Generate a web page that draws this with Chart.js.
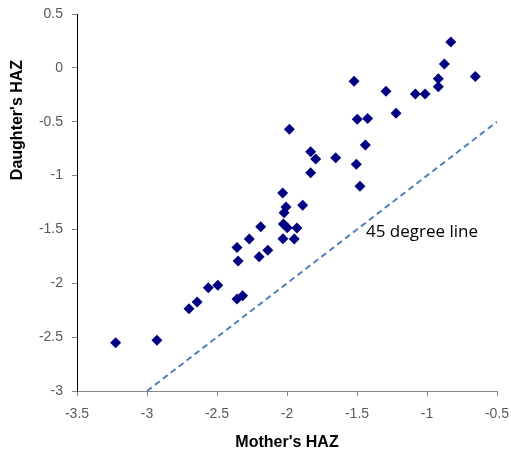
<!doctype html>
<html lang="en">
<head>
  <meta charset="utf-8">
  <title>Mother's vs Daughter's HAZ</title>
  <script src="https://cdn.jsdelivr.net/npm/chart.js"></script>
  <style>
    html, body { margin: 0; padding: 0; background: #fff; }
    #wrap { width: 511px; height: 455px; position: relative; }
  </style>
</head>
<body>
  <div id="wrap"><canvas id="chart"></canvas></div>

  <script>
    // values
    const motherHAZ = [
      -3.224, -2.929, -2.700, -2.642, -2.562, -2.494, -2.357, -2.317,
      -2.357, -2.349, -2.269, -2.199, -2.188, -2.137, -2.031, -2.007,
      -2.021, -2.026, -1.998, -2.029, -1.948, -1.929, -1.888, -1.983,
      -1.831, -1.795, -1.831, -1.652, -1.505, -1.479, -1.440, -1.498,
      -1.424, -1.521, -1.293, -1.221, -1.083, -1.014, -0.919, -0.919,
      -0.876, -0.830, -0.655
    ];
    const daughterHAZ = [
      -2.552, -2.530, -2.236, -2.174, -2.042, -2.018, -2.146, -2.116,
      -1.668, -1.793, -1.589, -1.753, -1.475, -1.694, -1.162, -1.292,
      -1.345, -1.450, -1.484, -1.587, -1.589, -1.487, -1.276, -0.571,
      -0.779, -0.846, -0.973, -0.834, -0.896, -1.100, -0.716, -0.478,
      -0.469, -0.125, -0.218, -0.422, -0.243, -0.243, -0.100, -0.175,
      0.036, 0.240, -0.080
    ];
    const lineX = [-3, -0.5];
    const lineY = [-3, -0.5];
    const lineLabel = '45 degree line';
    const lineLabelAt = [-1.436, -1.524];
    const xTitle = "Mother's HAZ";
    const yTitle = "Daughter's HAZ";

    const points = motherHAZ.map((x, i) => ({ x: x, y: daughterHAZ[i] }));
    const diag = lineX.map((x, i) => ({ x: x, y: lineY[i] }));

    // y title and the line label are drawn by hand
    const extraText = {
      id: 'extraText',
      afterDraw(chart) {
        const ctx = chart.ctx;
        const xs = chart.scales.x, ys = chart.scales.y;
        ctx.save();
        ctx.fillStyle = '#000';
        ctx.font = 'bold 16px "Liberation Sans", Arial, sans-serif';
        ctx.textAlign = 'center';
        ctx.textBaseline = 'middle';
        ctx.translate(18, 120);
        ctx.rotate(-Math.PI / 2);
        ctx.fillText(yTitle, 0, 0);
        ctx.restore();

        ctx.save();
        ctx.fillStyle = '#000';
        ctx.font = '17px "Open Sans", "Noto Sans", sans-serif';
        ctx.textAlign = 'left';
        ctx.textBaseline = 'middle';
        ctx.fillText(lineLabel, xs.getPixelForValue(lineLabelAt[0]), ys.getPixelForValue(lineLabelAt[1]));
        ctx.restore();
      }
    };

    const tickFont = { family: '"Liberation Sans", Arial, sans-serif', size: 14 };
    const plainNum = v => String(Math.round(v * 10) / 10);

    new Chart(document.getElementById('chart'), {
      type: 'scatter',
      data: {
        datasets: [
          {
            label: 'HAZ',
            data: points,
            pointStyle: 'rectRot',
            pointRadius: 5.5,
            pointHoverRadius: 5.5,
            backgroundColor: '#000080',
            borderColor: '#000080',
            borderWidth: 0
          },
          {
            type: 'line',
            label: lineLabel,
            data: diag,
            borderColor: '#4f81bd',
            borderWidth: 2,
            borderDash: [6, 4],
            pointRadius: 0,
            fill: false
          }
        ]
      },
      options: {
        responsive: true,
        maintainAspectRatio: false,
        animation: false,
        layout: { autoPadding: false, padding: { top: 14, right: 14, left: 0, bottom: 0 } },
        plugins: { legend: { display: false }, tooltip: { enabled: false } },
        scales: {
          x: {
            type: 'linear',
            min: -3.5,
            max: -0.5,
            afterFit: s => { s.height = 64; s.paddingLeft = 0; s.paddingRight = 0; },
            border: { color: '#868686', width: 1 },
            grid: { drawOnChartArea: false, drawTicks: true, tickLength: 5, color: '#868686' },
            ticks: { stepSize: 0.5, color: '#595959', font: tickFont, padding: 10, callback: plainNum },
            title: {
              display: true,
              text: xTitle,
              color: '#000',
              font: { family: '"Liberation Sans", Arial, sans-serif', size: 16, weight: 'bold' },
              padding: { top: 7, bottom: 3 }
            }
          },
          y: {
            type: 'linear',
            min: -3,
            max: 0.5,
            afterFit: s => { s.width = 77; s.paddingTop = 0; s.paddingBottom = 0; },
            border: { color: '#000', width: 1 },
            grid: { drawOnChartArea: false, drawTicks: true, tickLength: 5, color: '#868686' },
            ticks: { stepSize: 0.5, color: '#595959', font: tickFont, padding: 9, callback: plainNum }
          }
        }
      },
      plugins: [extraText]
    });
  </script>
</body>
</html>
